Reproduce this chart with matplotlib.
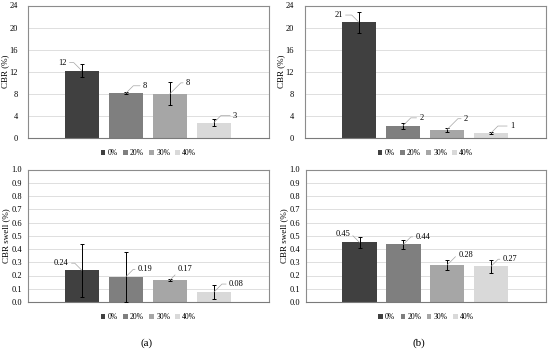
import matplotlib
matplotlib.use("Agg")
import matplotlib.pyplot as plt

plt.rcParams["font.family"] = ["Liberation Serif", "DejaVu Serif"]

# ---- data -------------------------------------------------------------
series = ["0%", "20%", "30%", "40%"]
colors = ["#404040", "#7f7f7f", "#a6a6a6", "#d9d9d9"]

cbr_a = [12.2, 8.1, 8.0, 2.8]
cbr_a_err = [1.2, 0.2, 2.1, 0.7]
cbr_a_lbl = ["12", "8", "8", "3"]

cbr_b = [21.0, 2.2, 1.5, 0.9]
cbr_b_err = [1.9, 0.5, 0.4, 0.1]
cbr_b_lbl = ["21", "2", "2", "1"]

swell_a = [0.24, 0.19, 0.165, 0.075]
swell_a_err = [0.20, 0.19, 0.01, 0.05]
swell_a_lbl = ["0.24", "0.19", "0.17", "0.08"]

swell_b = [0.45, 0.435, 0.28, 0.27]
swell_b_err = [0.04, 0.035, 0.04, 0.05]
swell_b_lbl = ["0.45", "0.44", "0.28", "0.27"]

# label offsets in pixels (dx to label edge, dy up)
off_cbr_a = [(-15, 8), (17, 7.5), (16, 11), (19, 7)]
off_cbr_b = [(-16, 7), (16.5, 8), (17, 11), (19, 7)]
off_sw_a = [(-13, 7), (12, 7.5), (8, 11), (15, 8)]
off_sw_b = [(-9.5, 8), (12, 7.5), (11, 10), (11.5, 7)]

W, H = 550, 350
fig = plt.figure(figsize=(W / 100, H / 100), dpi=100)


def px_axes(l, t, r, b):
    return fig.add_axes([l / W, 1 - b / H, (r - l) / W, (b - t) / H])


def panel(ax, vals, errs, lbls, offs, ymax, step, ylabel, fmt, leg_y,
          tick_pad, ylab_x):
    for i, (v, e, c, s) in enumerate(zip(vals, errs, colors, series)):
        ax.bar(i, v, width=0.78, color=c, label=s, zorder=2,
               yerr=e, capsize=1.6,
               error_kw=dict(lw=0.7, capthick=0.7, ecolor="black", zorder=3))
    for i, (v, t, (dx, dy)) in enumerate(zip(vals, lbls, offs)):
        left = dx < 0
        ax.annotate(t, xy=(i, v), xytext=(dx * 0.72, dy * 0.72),
                    textcoords="offset points", fontsize=6,
                    ha="right" if left else "left", va="center",
                    arrowprops=dict(arrowstyle="-", color="#a6a6a6", lw=0.5,
                                    shrinkA=0, shrinkB=0,
                                    relpos=(1, 0.5) if left else (0, 0.5),
                                    connectionstyle="angle,angleA=0,angleB=%d,rad=0"
                                    % (135 if left else 45)),
                    zorder=4)
    ax.set_xlim(-1.22, 4.25)
    ax.set_ylim(0, ymax)
    ticks = [k * step for k in range(int(round(ymax / step)) + 1)]
    ax.set_yticks(ticks)
    ax.set_yticklabels([fmt % t for t in ticks])
    ax.set_xticks([])
    ax.tick_params(axis="y", length=0, labelsize=6, pad=tick_pad)
    ax.grid(axis="y", color="#d9d9d9", lw=0.6, zorder=0)
    for sp in ax.spines.values():
        sp.set_color("#8c8c8c")
        sp.set_linewidth(0.8)
    ax.spines["bottom"].set_color("#7a7a7a")
    ax.set_ylabel(ylabel, fontsize=6.5)
    ax.yaxis.label.set_verticalalignment("center")
    ax.yaxis.set_label_coords(ylab_x, 0.5)
    bb = ax.get_position()
    ax.legend(loc="center", bbox_to_anchor=((bb.x0 + bb.x1) / 2, leg_y),
              bbox_transform=fig.transFigure, ncol=4, frameon=False,
              fontsize=5.5, handlelength=0.6, handleheight=0.6,
              handletextpad=0.3, columnspacing=0.7)


ax1 = px_axes(28, 5.5, 269, 138)
panel(ax1, cbr_a, cbr_a_err, cbr_a_lbl, off_cbr_a, 24, 4, "CBR (%)", "%d",
      1 - 153 / H, 7.5, -0.093)
ax2 = px_axes(305, 5.5, 546, 138)
panel(ax2, cbr_b, cbr_b_err, cbr_b_lbl, off_cbr_b, 24, 4, "CBR (%)", "%d",
      1 - 153 / H, 8, -0.097)
ax3 = px_axes(28, 169.5, 269, 302)
panel(ax3, swell_a, swell_a_err, swell_a_lbl, off_sw_a, 1.0, 0.1,
      "CBR swell (%)", "%.1f", 1 - 317 / H, 4.3, -0.089)
ax4 = px_axes(306, 169.5, 546, 302)
panel(ax4, swell_b, swell_b_err, swell_b_lbl, off_sw_b, 1.0, 0.1,
      "CBR swell (%)", "%.1f", 1 - 317 / H, 4.3, -0.089)

fig.text(147 / W, 1 - 343 / H, "(a)", ha="center", va="center", fontsize=8)
fig.text(419 / W, 1 - 343 / H, "(b)", ha="center", va="center", fontsize=8)

fig.savefig("out.png", dpi=100)
